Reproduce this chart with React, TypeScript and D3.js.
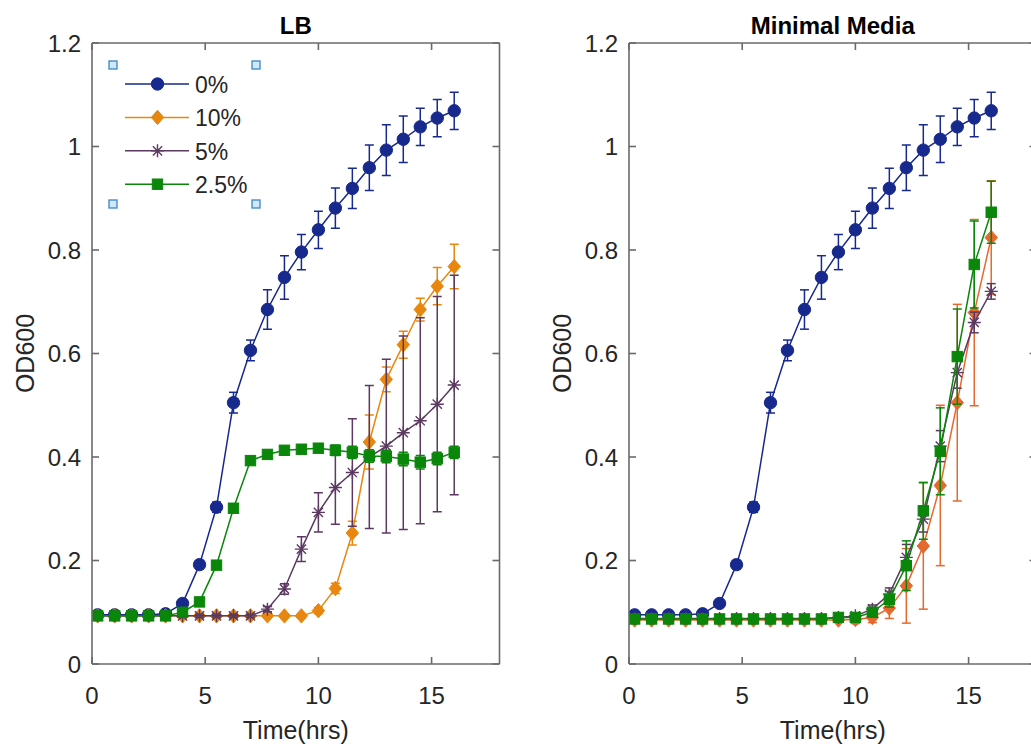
import React from 'react';
import * as d3 from 'd3';

// ---------- data ----------
const times = [0.25, 1, 1.75, 2.5, 3.25, 4, 4.75, 5.5, 6.25, 7, 7.75, 8.5, 9.25, 10, 10.75, 11.5, 12.25, 13, 13.75, 14.5, 15.25, 16];

const xTicks = [0, 5, 10, 15];
const yTicks = [0, 0.2, 0.4, 0.6, 0.8, 1, 1.2];
const yTickLabels = ['0', '0.2', '0.4', '0.6', '0.8', '1', '1.2'];

const seriesNames = ['0%', '10%', '5%', '2.5%'];

// LB panel
const lbBlue = [0.095, 0.095, 0.095, 0.095, 0.097, 0.117, 0.192, 0.303, 0.505, 0.606, 0.685, 0.747, 0.796, 0.839, 0.881, 0.919, 0.959, 0.993, 1.014, 1.038, 1.055, 1.069];
const lbBlueErr = [0.004, 0.004, 0.004, 0.004, 0.004, 0.006, 0.008, 0.01, 0.02, 0.02, 0.038, 0.042, 0.034, 0.036, 0.039, 0.039, 0.044, 0.049, 0.045, 0.036, 0.036, 0.036];
const lbOrange = [0.093, 0.093, 0.093, 0.093, 0.093, 0.093, 0.093, 0.093, 0.093, 0.093, 0.093, 0.093, 0.093, 0.103, 0.146, 0.253, 0.429, 0.55, 0.617, 0.685, 0.73, 0.768];
const lbOrangeErr = [0.003, 0.003, 0.003, 0.003, 0.003, 0.003, 0.003, 0.003, 0.003, 0.003, 0.003, 0.003, 0.003, 0.006, 0.01, 0.023, 0.052, 0.024, 0.026, 0.022, 0.036, 0.043];
const lbPurple = [0.093, 0.093, 0.093, 0.093, 0.093, 0.093, 0.093, 0.093, 0.093, 0.093, 0.106, 0.145, 0.222, 0.293, 0.341, 0.37, 0.4, 0.421, 0.447, 0.47, 0.502, 0.539];
const lbPurpleErr = [0.003, 0.003, 0.003, 0.003, 0.003, 0.003, 0.003, 0.003, 0.003, 0.003, 0.005, 0.01, 0.024, 0.038, 0.071, 0.104, 0.138, 0.168, 0.187, 0.199, 0.208, 0.212];
const lbGreen = [0.093, 0.093, 0.093, 0.093, 0.093, 0.1, 0.12, 0.191, 0.301, 0.393, 0.405, 0.413, 0.415, 0.417, 0.413, 0.409, 0.402, 0.401, 0.396, 0.39, 0.397, 0.409];
const lbGreenErr = [0.003, 0.003, 0.003, 0.003, 0.003, 0.004, 0.005, 0.006, 0.006, 0.006, 0.008, 0.006, 0.006, 0.008, 0.01, 0.012, 0.012, 0.012, 0.013, 0.013, 0.012, 0.012];

// Minimal Media panel
const mmBlue = [0.095, 0.095, 0.095, 0.095, 0.097, 0.117, 0.192, 0.303, 0.505, 0.606, 0.685, 0.747, 0.796, 0.839, 0.881, 0.919, 0.959, 0.993, 1.014, 1.038, 1.055, 1.069];
const mmBlueErr = [0.004, 0.004, 0.004, 0.004, 0.004, 0.006, 0.008, 0.01, 0.02, 0.02, 0.038, 0.042, 0.034, 0.036, 0.039, 0.039, 0.044, 0.049, 0.045, 0.036, 0.036, 0.036];
const mmOrange = [0.085, 0.085, 0.085, 0.085, 0.085, 0.085, 0.085, 0.085, 0.085, 0.085, 0.085, 0.085, 0.085, 0.086, 0.09, 0.108, 0.151, 0.228, 0.345, 0.505, 0.679, 0.824];
const mmOrangeErr = [0.004, 0.004, 0.004, 0.004, 0.004, 0.004, 0.004, 0.004, 0.004, 0.004, 0.004, 0.004, 0.004, 0.008, 0.01, 0.02, 0.072, 0.122, 0.155, 0.19, 0.18, 0.11];
const mmPurple = [0.088, 0.088, 0.088, 0.088, 0.088, 0.088, 0.088, 0.088, 0.088, 0.088, 0.088, 0.088, 0.09, 0.093, 0.106, 0.135, 0.206, 0.28, 0.421, 0.563, 0.66, 0.72];
const mmPurpleErr = [0.003, 0.003, 0.003, 0.003, 0.003, 0.003, 0.003, 0.003, 0.003, 0.003, 0.003, 0.003, 0.004, 0.005, 0.008, 0.012, 0.025, 0.025, 0.03, 0.03, 0.02, 0.015];
const mmGreen = [0.087, 0.087, 0.087, 0.087, 0.087, 0.087, 0.087, 0.087, 0.087, 0.087, 0.087, 0.087, 0.09, 0.09, 0.1, 0.125, 0.19, 0.296, 0.411, 0.594, 0.772, 0.873];
const mmGreenErr = [0.003, 0.003, 0.003, 0.003, 0.003, 0.003, 0.003, 0.003, 0.003, 0.003, 0.003, 0.003, 0.004, 0.004, 0.008, 0.015, 0.048, 0.055, 0.084, 0.092, 0.084, 0.06];

// ---------- styling ----------
const BLUE = '#17298c';
const ORANGE = '#e8870f';
const ORANGE_MM = '#e4692f';
const PURPLE = '#5b3960';
const GREEN = '#0a860a';
const AXIS = '#6a6a6a';
const TEXT = '#262626';
const FONT = '"Liberation Sans", Arial, Helvetica, sans-serif';

type Shape = 'circle' | 'diamond' | 'star' | 'square';

interface Series { values: number[]; err: number[]; color: string; shape: Shape; name: string }

const Marker = ({ shape, color, x, y }: { shape: Shape; color: string; x: number; y: number }) => {
  if (shape === 'circle') return <circle cx={x} cy={y} r={6.2} fill={color} stroke={color} strokeWidth={1} />;
  if (shape === 'diamond')
    return <path d={`M${x},${y - 7.2}L${x + 6.2},${y}L${x},${y + 7.2}L${x - 6.2},${y}Z`} fill={color} stroke={color} strokeWidth={1} />;
  if (shape === 'square') return <rect x={x - 5.2} y={y - 5.2} width={10.4} height={10.4} fill={color} stroke={color} strokeWidth={1} />;
  const a = 6.5, b = 4.6;
  return (
    <path
      d={`M${x - a},${y}H${x + a}M${x},${y - a}V${y + a}M${x - b},${y - b}L${x + b},${y + b}M${x - b},${y + b}L${x + b},${y - b}`}
      stroke={color}
      strokeWidth={1.4}
      fill="none"
    />
  );
};

const PLOT_W = 407.5;
const TOP = 43;
const BOTTOM = 664;

const Panel = ({ left, title, series, legend }: { left: number; title: string; series: Series[]; legend: boolean }) => {
  const xs = d3.scaleLinear().domain([0, 18]).range([left, left + PLOT_W]);
  const ys = d3.scaleLinear().domain([0, 1.2]).range([BOTTOM, TOP]);
  const right = left + PLOT_W;
  const line = d3
    .line<number>()
    .x((_, i) => xs(times[i]))
    .y((d) => ys(d));
  const cap = 4.5;
  const clipId = `clip-${left}`;
  return (
    <g>
      <defs>
        <clipPath id={clipId}>
          <rect x={left} y={TOP} width={PLOT_W} height={BOTTOM - TOP} />
        </clipPath>
      </defs>
      {/* title */}
      <text x={(left + right) / 2} y={25} textAnchor="middle" dominantBaseline="central" fontFamily={FONT} fontSize={24} fontWeight="bold" fill="#000">
        {title}
      </text>
      {/* series */}
      <g clipPath={`url(#${clipId})`}>
        {series.map((s) => (
          <g key={s.name}>
            <path d={line(s.values) || ''} fill="none" stroke={s.color} strokeWidth={1.5} />
            {s.values.map((v, i) => {
              const x = xs(times[i]);
              const y1 = ys(v - s.err[i]);
              const y2 = ys(v + s.err[i]);
              return (
                <g key={i} stroke={s.color} strokeWidth={1.5}>
                  <line x1={x} x2={x} y1={y1} y2={y2} />
                  <line x1={x - cap} x2={x + cap} y1={y1} y2={y1} />
                  <line x1={x - cap} x2={x + cap} y1={y2} y2={y2} />
                </g>
              );
            })}
            {s.values.map((v, i) => (
              <Marker key={i} shape={s.shape} color={s.color} x={xs(times[i])} y={ys(v)} />
            ))}
          </g>
        ))}
      </g>
      {/* axes box */}
      <g stroke={AXIS} strokeWidth={1.6} fill="none">
        <line x1={left} x2={right} y1={BOTTOM} y2={BOTTOM} />
        <line x1={left} x2={right} y1={TOP} y2={TOP} />
        <line x1={left} x2={left} y1={TOP} y2={BOTTOM} />
        <line x1={right} x2={right} y1={TOP} y2={BOTTOM} />
        {xTicks.map((t) => (
          <g key={t}>
            <line x1={xs(t)} x2={xs(t)} y1={BOTTOM} y2={BOTTOM - 7} />
            <line x1={xs(t)} x2={xs(t)} y1={TOP} y2={TOP + 7} />
          </g>
        ))}
        {yTicks.map((t) => (
          <g key={t}>
            <line x1={left} x2={left + 7} y1={ys(t)} y2={ys(t)} />
            <line x1={right} x2={right - 7} y1={ys(t)} y2={ys(t)} />
          </g>
        ))}
      </g>
      {/* tick labels */}
      <g fontFamily={FONT} fontSize={24} fill={TEXT}>
        {xTicks.map((t) => (
          <text key={t} x={xs(t)} y={695} textAnchor="middle" dominantBaseline="central">
            {String(t)}
          </text>
        ))}
        {yTicks.map((t, i) => (
          <text key={t} x={left - 11} y={ys(t)} textAnchor="end" dominantBaseline="central">
            {yTickLabels[i]}
          </text>
        ))}
      </g>
      {/* axis labels */}
      <text x={(left + right) / 2} y={730} textAnchor="middle" dominantBaseline="central" fontFamily={FONT} fontSize={25} fill={TEXT}>
        Time(hrs)
      </text>
      <text
        transform={`translate(${left - 67},${(TOP + BOTTOM) / 2}) rotate(-90)`}
        textAnchor="middle"
        dominantBaseline="central"
        fontFamily={FONT}
        fontSize={25}
        fill={TEXT}
      >
        OD600
      </text>
      {legend && (
        <g>
          {series.map((s, i) => {
            const y = 84 + i * 33.4;
            return (
              <g key={s.name}>
                <line x1={125} x2={189} y1={y} y2={y} stroke={s.color} strokeWidth={1.5} />
                <Marker shape={s.shape} color={s.color} x={157.5} y={y} />
                <text x={195} y={y + 1} dominantBaseline="central" fontFamily={FONT} fontSize={23} fill={TEXT}>
                  {s.name}
                </text>
              </g>
            );
          })}
          {[
            [113, 65],
            [256, 65],
            [113, 204],
            [256, 204],
          ].map(([hx, hy], i) => (
            <rect key={i} x={hx - 4} y={hy - 4} width={8} height={8} fill="#cfe8fa" stroke="#3b86c6" strokeWidth={1.3} />
          ))}
        </g>
      )}
    </g>
  );
};

export default function App() {
  const lbSeries: Series[] = [
    { values: lbBlue, err: lbBlueErr, color: BLUE, shape: 'circle', name: seriesNames[0] },
    { values: lbOrange, err: lbOrangeErr, color: ORANGE, shape: 'diamond', name: seriesNames[1] },
    { values: lbPurple, err: lbPurpleErr, color: PURPLE, shape: 'star', name: seriesNames[2] },
    { values: lbGreen, err: lbGreenErr, color: GREEN, shape: 'square', name: seriesNames[3] },
  ];
  const mmSeries: Series[] = [
    { values: mmBlue, err: mmBlueErr, color: BLUE, shape: 'circle', name: seriesNames[0] },
    { values: mmOrange, err: mmOrangeErr, color: ORANGE_MM, shape: 'diamond', name: seriesNames[1] },
    { values: mmPurple, err: mmPurpleErr, color: PURPLE, shape: 'star', name: seriesNames[2] },
    { values: mmGreen, err: mmGreenErr, color: GREEN, shape: 'square', name: seriesNames[3] },
  ];
  return (
    <svg width={1031} height={748} style={{ position: 'absolute', left: 0, top: 0, background: '#fff' }}>
      <rect x={0} y={0} width={1031} height={748} fill="#fff" />
      <Panel left={92} title="LB" series={lbSeries} legend={true} />
      <Panel left={629} title="Minimal Media" series={mmSeries} legend={false} />
    </svg>
  );
}
